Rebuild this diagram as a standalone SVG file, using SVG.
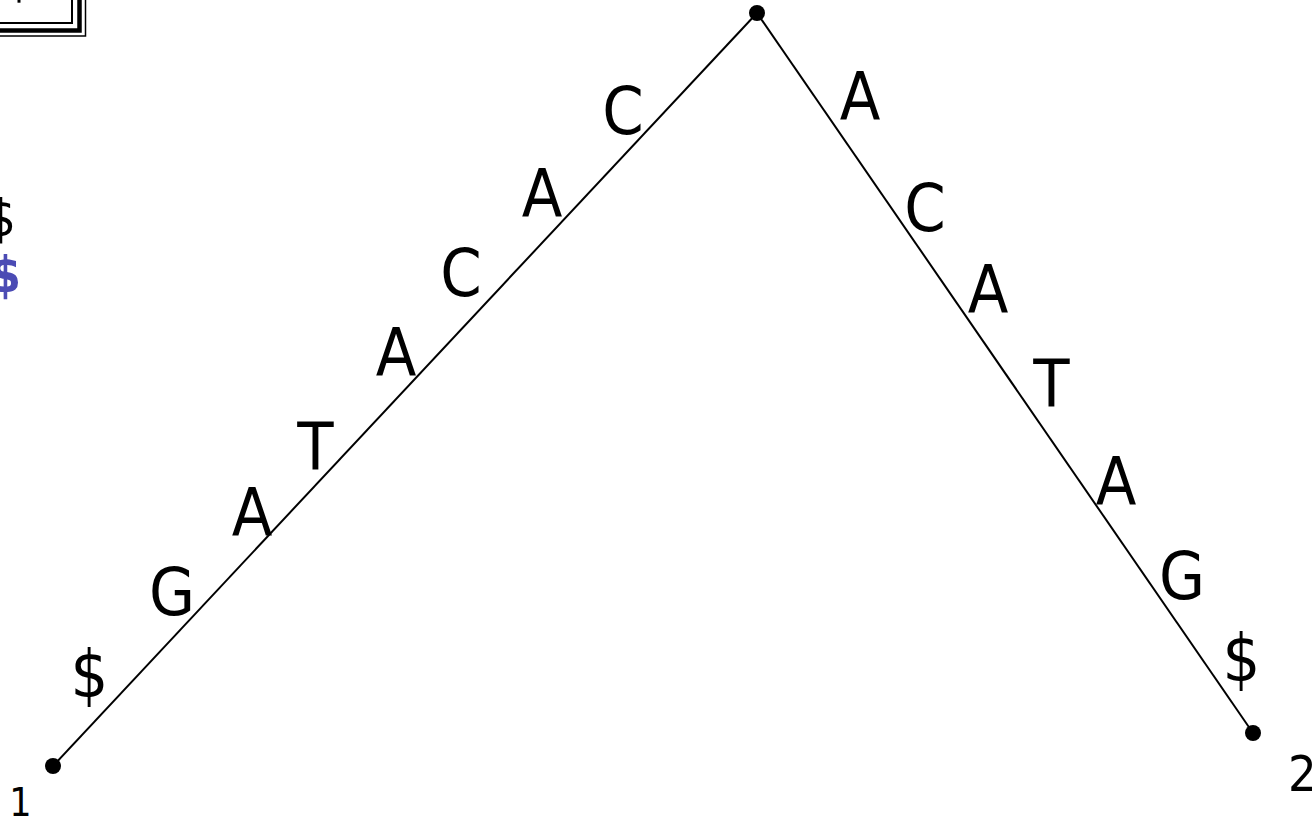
<svg xmlns="http://www.w3.org/2000/svg" width="1312" height="822" viewBox="0 0 1312 822">
<style>
.lbl{font-family:"DejaVu Sans Condensed","DejaVu Sans",sans-serif;font-stretch:condensed;font-size:66px;fill:#000;text-anchor:middle}
.num{font-family:"DejaVu Sans Condensed","DejaVu Sans",sans-serif;font-stretch:condensed;fill:#000}
.edge{stroke:#000;stroke-width:2;fill:none}
.node{fill:#000}
</style>
<rect width="1312" height="822" fill="#fff"/>
<g id="frame" fill="none" stroke="#000">
<rect x="-20" y="-20" width="92" height="43" stroke-width="2"/>
<rect x="-20" y="-20" width="99.5" height="50.5" stroke-width="4.5"/>
<rect x="-20" y="-20" width="105.5" height="56" stroke-width="1.5"/>
</g>
<rect x="17.5" y="0" width="3" height="2.7" fill="#000"/>
<text x="16" y="236" font-family="DejaVu Sans Condensed, DejaVu Sans, sans-serif" font-stretch="condensed" font-size="51" text-anchor="end">$</text>
<text x="21" y="292" font-family="DejaVu Sans Condensed, DejaVu Sans, sans-serif" font-stretch="condensed" font-size="50" font-weight="bold" fill="#4b4bb4" text-anchor="end">$</text>
<g id="connectors">
<line class="edge" x1="757" y1="13" x2="53" y2="766"/>
<line class="edge" x1="757" y1="13" x2="1253" y2="733"/>
</g>
<g id="root"><circle class="node" cx="757" cy="13" r="8"/></g>
<g id="leaf1"><circle class="node" cx="53" cy="766" r="8"/><text class="num" x="20.5" y="816" font-size="39" text-anchor="middle">1</text></g>
<g id="leaf2"><circle class="node" cx="1253" cy="733" r="8"/><text class="num" x="1288" y="791" font-size="50">2</text></g>
<g id="labels-left">
<text class="lbl" x="623" y="134">C</text>
<text class="lbl" x="542" y="216">A</text>
<text class="lbl" x="461" y="296">C</text>
<text class="lbl" x="396" y="375">A</text>
<text class="lbl" x="315.5" y="470">T</text>
<text class="lbl" x="252" y="535">A</text>
<text class="lbl" x="172" y="615">G</text>
<text class="lbl" x="89.5" y="697">$</text>
</g>
<g id="labels-right">
<text class="lbl" x="860" y="119">A</text>
<text class="lbl" x="925" y="231">C</text>
<text class="lbl" x="988" y="312">A</text>
<text class="lbl" x="1051.5" y="407">T</text>
<text class="lbl" x="1116" y="504">A</text>
<text class="lbl" x="1182" y="599">G</text>
<text class="lbl" x="1241.5" y="681">$</text>
</g>
</svg>
